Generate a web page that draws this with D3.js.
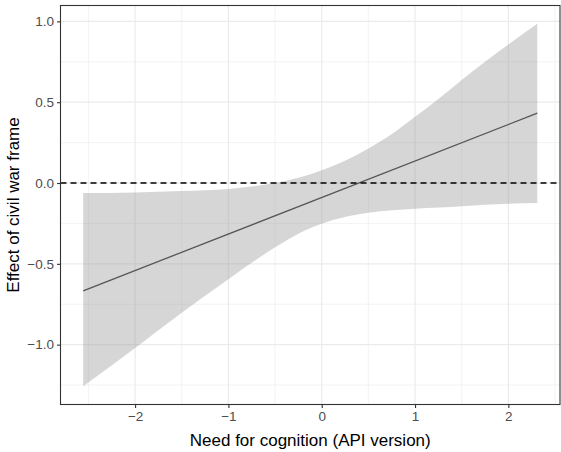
<!DOCTYPE html>
<html>
<head>
<meta charset="utf-8">
<script src="https://cdn.jsdelivr.net/npm/d3@7"></script>
<style>
  body { margin: 0; background: #fff; }
  svg { display: block; font-family: "Liberation Sans", Arial, Helvetica, sans-serif; }
  .tick-label { fill: #4d4d4d; font-size: 13.5px; }
  .axis-title { fill: #000; font-size: 17px; }
</style>
</head>
<body>
<svg id="chart"></svg>
<script>
// values
var needX     = [-2.556, -2, -1.5, -1, -0.5, -0.24, 0, 0.26, 0.5, 0.76, 1, 1.26, 1.5, 2, 2.31];
var upperCI   = [-0.062, -0.058, -0.05, -0.037, 0.0, 0.034, 0.079, 0.141, 0.214, 0.307, 0.41, 0.525, 0.638, 0.857, 0.986];
var lowerCI   = [-1.258, -1.02, -0.802, -0.595, -0.398, -0.31, -0.252, -0.209, -0.184, -0.169, -0.159, -0.151, -0.143, -0.129, -0.124];
var effectX   = [-2.556, 2.31];
var effectY   = [-0.667, 0.432];
var xTicks    = [-2, -1, 0, 1, 2];
var xMinor    = [-2.5, -1.5, -0.5, 0.5, 1.5, 2.5];
var yTicks    = [-1.0, -0.5, 0.0, 0.5, 1.0];
var yMinor    = [-1.25, -0.75, -0.25, 0.25, 0.75];

var screen = {width:561, height:452};
var margins = {top:5.5, bottom:47.5, left:60.5, right:1};
var graph = {
    width:screen.width-margins.left-margins.right,
    height:screen.height-margins.top-margins.bottom
};

var svg = d3.select("#chart")
    .attr("width",screen.width)
    .attr("height",screen.height);

// ggplot style 5% expansion
var expand = function(lo,hi)
{
    var pad = (hi-lo)*0.05;
    return [lo-pad,hi+pad];
}

var xScale = d3.scaleLinear()
    .domain(expand(d3.min(needX), d3.max(needX)))
    .range([0,graph.width]);

var yScale = d3.scaleLinear()
    .domain(expand(d3.min(lowerCI), d3.max(upperCI)))
    .range([graph.height,0]);

var g = svg.append("g")
    .classed("graph",true)
    .attr("transform","translate("+margins.left+","+margins.top+")");

// grid
var grid = g.append("g");
grid.selectAll(".xminor").data(xMinor).enter().append("line")
    .attr("x1",function(d){return xScale(d)}).attr("x2",function(d){return xScale(d)})
    .attr("y1",0).attr("y2",graph.height)
    .attr("stroke","#ebebeb").attr("stroke-width",0.6);
grid.selectAll(".yminor").data(yMinor).enter().append("line")
    .attr("y1",function(d){return yScale(d)}).attr("y2",function(d){return yScale(d)})
    .attr("x1",0).attr("x2",graph.width)
    .attr("stroke","#ebebeb").attr("stroke-width",0.6);
grid.selectAll(".xmajor").data(xTicks).enter().append("line")
    .attr("x1",function(d){return xScale(d)}).attr("x2",function(d){return xScale(d)})
    .attr("y1",0).attr("y2",graph.height)
    .attr("stroke","#ebebeb").attr("stroke-width",1.2);
grid.selectAll(".ymajor").data(yTicks).enter().append("line")
    .attr("y1",function(d){return yScale(d)}).attr("y2",function(d){return yScale(d)})
    .attr("x1",0).attr("x2",graph.width)
    .attr("stroke","#ebebeb").attr("stroke-width",1.2);

// ribbon
var band = needX.map(function(x,i){return {x:x, lo:lowerCI[i], hi:upperCI[i]}});
var areaGenerator = d3.area()
    .x(function(d){return xScale(d.x)})
    .y0(function(d){return yScale(d.lo)})
    .y1(function(d){return yScale(d.hi)})
    .curve(d3.curveMonotoneX);
g.append("path")
    .datum(band)
    .attr("d",areaGenerator)
    .attr("fill","#999999")
    .attr("fill-opacity",0.4);

// effect line
var line = effectX.map(function(x,i){return {x:x, y:effectY[i]}});
var lineGenerator = d3.line()
    .x(function(d){return xScale(d.x)})
    .y(function(d){return yScale(d.y)});
g.append("path")
    .datum(line)
    .attr("d",lineGenerator)
    .attr("fill","none")
    .attr("stroke","#555555")
    .attr("stroke-width",1.3);

// zero reference line
g.append("line")
    .attr("x1",0).attr("x2",graph.width)
    .attr("y1",yScale(0)).attr("y2",yScale(0))
    .attr("stroke","#000")
    .attr("stroke-width",1.4)
    .attr("stroke-dasharray","6,4");

// panel border
g.append("rect")
    .attr("x",0).attr("y",0)
    .attr("width",graph.width).attr("height",graph.height)
    .attr("fill","none")
    .attr("stroke","#333333")
    .attr("stroke-width",1.1);

// axes
var xAxis = d3.axisBottom(xScale).tickValues(xTicks).tickSize(3.5).tickPadding(3)
    .tickFormat(function(d){return d < 0 ? "\u2212"+Math.abs(d) : d});
var yAxis = d3.axisLeft(yScale).tickValues(yTicks).tickSize(3.5).tickPadding(3)
    .tickFormat(function(d){return d < 0 ? "\u2212"+d3.format(".1f")(Math.abs(d)) : d3.format(".1f")(d)});

var xa = g.append("g")
    .attr("transform","translate(0,"+graph.height+")")
    .call(xAxis);
var ya = g.append("g").call(yAxis);

[xa,ya].forEach(function(a)
{
    a.select(".domain").remove();
    a.selectAll(".tick line").attr("stroke","#333333").attr("stroke-width",1.1);
    a.selectAll(".tick text").attr("class","tick-label").attr("font-family",null).attr("font-size",null);
    a.attr("font-family",null).attr("font-size",null);
});

// titles
svg.append("text")
    .classed("axis-title",true)
    .attr("text-anchor","middle")
    .attr("x",margins.left+graph.width/2)
    .attr("y",446)
    .text("Need for cognition (API version)");

svg.append("g")
    .attr("transform","translate(19,"+(margins.top+graph.height/2)+")")
    .append("text")
    .classed("axis-title",true)
    .attr("text-anchor","middle")
    .attr("transform","rotate(-90)")
    .text("Effect of civil war frame");
</script>
</body>
</html>
